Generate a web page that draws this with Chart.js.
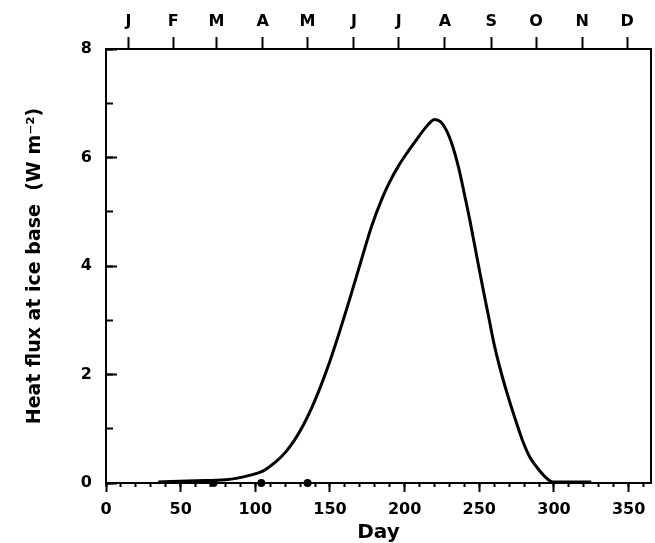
<!DOCTYPE html>
<html>
<head>
<meta charset="utf-8">
<script src="https://cdn.jsdelivr.net/npm/chart.js@4"></script>
<style>
  html, body { margin: 0; padding: 0; background: #fff; }
  #wrap { width: 655px; height: 543px; }
</style>
</head>
<body>
<div id="wrap"><canvas id="c" width="655" height="543"></canvas></div>
<script>
// ---- data ----
const curveDays = [35, 60, 80, 88, 96, 105, 114, 120, 126, 132, 138, 144, 150, 156, 163, 171, 178, 185, 190, 196, 202, 208, 214, 218, 220, 224, 228, 232, 236, 240, 244, 248, 252, 256, 260, 265, 270, 275, 279, 284, 290, 295, 299, 310, 325];
const curveFlux = [0.02, 0.04, 0.06, 0.09, 0.14, 0.22, 0.4, 0.56, 0.78, 1.06, 1.4, 1.8, 2.25, 2.75, 3.37, 4.11, 4.74, 5.25, 5.55, 5.85, 6.1, 6.33, 6.55, 6.67, 6.70, 6.66, 6.5, 6.22, 5.83, 5.33, 4.8, 4.22, 3.65, 3.1, 2.55, 2.0, 1.53, 1.1, 0.78, 0.47, 0.24, 0.09, 0.02, 0.02, 0.02];
const dotDays = [72, 104, 135];
const dotFlux = [0, 0, 0];

// ---- tick labels ----
const xTickValues = [0, 50, 100, 150, 200, 250, 300, 350];
const yTickValues = [0, 2, 4, 6, 8];
const monthLabels = ['J', 'F', 'M', 'A', 'M', 'J', 'J', 'A', 'S', 'O', 'N', 'D'];
const monthDays = [15, 45, 74, 105, 135, 166, 196, 227, 258, 288, 319, 349];

const xMinorTicks = [];
for (let d = 0; d <= 360; d += 10) xMinorTicks.push(d);
const yMinorTicks = [0, 1, 2, 3, 4, 5, 6, 7, 8];

const FONT = 'DejaVu Sans';
const tickFont = { family: FONT, size: 16, weight: 'bold' };
const border = { display: true, color: '#000', width: 2 };

const setTicks = vals => scale => { scale.ticks = vals.map(v => ({ value: v })); };

new Chart(document.getElementById('c'), {
  type: 'scatter',
  data: {
    datasets: [
      {
        data: curveDays.map((d, i) => ({ x: d, y: curveFlux[i] })),
        showLine: true,
        borderColor: '#000',
        borderWidth: 3,
        pointRadius: 0,
        cubicInterpolationMode: 'monotone',
        clip: false,
        xAxisID: 'x', yAxisID: 'y'
      },
      {
        data: dotDays.map((d, i) => ({ x: d, y: dotFlux[i] })),
        showLine: false,
        pointRadius: 4,
        pointBackgroundColor: '#000',
        pointBorderColor: '#000',
        borderWidth: 0,
        clip: false,
        xAxisID: 'x', yAxisID: 'y'
      }
    ]
  },
  options: {
    responsive: false,
    animation: false,
    events: [],
    layout: { padding: { left: 0, right: 4, top: 0, bottom: 0 } },
    plugins: { legend: { display: false }, tooltip: { enabled: false } },
    scales: {
      x: {
        type: 'linear', position: 'bottom', min: 0, max: 365, weight: 1,
        afterBuildTicks: setTicks(xTickValues),
        afterFit: s => { s.height = 60; },
        grid: { drawOnChartArea: false, drawTicks: true, tickLength: 9, tickWidth: 2, tickColor: '#000' },
        border: border,
        ticks: { autoSkip: false, maxRotation: 0, color: '#000', font: tickFont, padding: 8 },
        title: { display: true, text: 'Day', color: '#000', font: { family: FONT, size: 20, weight: 'bold', lineHeight: 1 }, padding: { top: 0, bottom: 0 } }
      },
      x2: {
        type: 'linear', axis: 'x', position: 'bottom', min: 0, max: 365, weight: 0,
        afterBuildTicks: setTicks(xMinorTicks),
        afterFit: s => { s.height = 0; },
        grid: { drawOnChartArea: false, drawTicks: true, tickLength: 4, tickWidth: 2, tickColor: '#000' },
        border: border,
        ticks: { display: false }
      },
      xTop: {
        type: 'linear', axis: 'x', position: 'top', min: 0, max: 365,
        afterBuildTicks: setTicks(monthDays),
        afterFit: s => { s.height = 49; },
        grid: { drawOnChartArea: false, drawTicks: true, tickLength: 12, tickWidth: 2, tickColor: '#000' },
        border: border,
        ticks: { autoSkip: false, maxRotation: 0, color: '#000', font: tickFont, padding: 6,
                 callback: (v, i) => monthLabels[i] }
      },
      y: {
        type: 'linear', position: 'left', min: 0, max: 8, weight: 1,
        afterBuildTicks: setTicks(yTickValues),
        afterFit: s => { s.width = 106; },
        grid: { drawOnChartArea: false, drawTicks: true, tickLength: -11, tickWidth: 2, tickColor: '#000' },
        border: border,
        ticks: { autoSkip: false, color: '#000', font: tickFont, padding: 25 },
        title: { display: true, text: 'Heat flux at ice base  (W m\u207B\u00B2)', color: '#000',
                 font: { family: FONT, size: 19, weight: 'bold', lineHeight: 1.2 }, padding: { top: 24, bottom: 0 } }
      },
      y2: {
        type: 'linear', axis: 'y', position: 'left', min: 0, max: 8, weight: 0,
        afterBuildTicks: setTicks(yMinorTicks),
        afterFit: s => { s.width = 0; },
        grid: { drawOnChartArea: false, drawTicks: true, tickLength: -7, tickWidth: 2, tickColor: '#000' },
        border: border,
        ticks: { display: false }
      },
      yRight: {
        type: 'linear', axis: 'y', position: 'right', min: 0, max: 8,
        afterBuildTicks: setTicks([]),
        afterFit: s => { s.width = 0; },
        grid: { drawOnChartArea: false, drawTicks: false },
        border: border,
        ticks: { display: false }
      }
    }
  }
});
</script>
</body>
</html>
